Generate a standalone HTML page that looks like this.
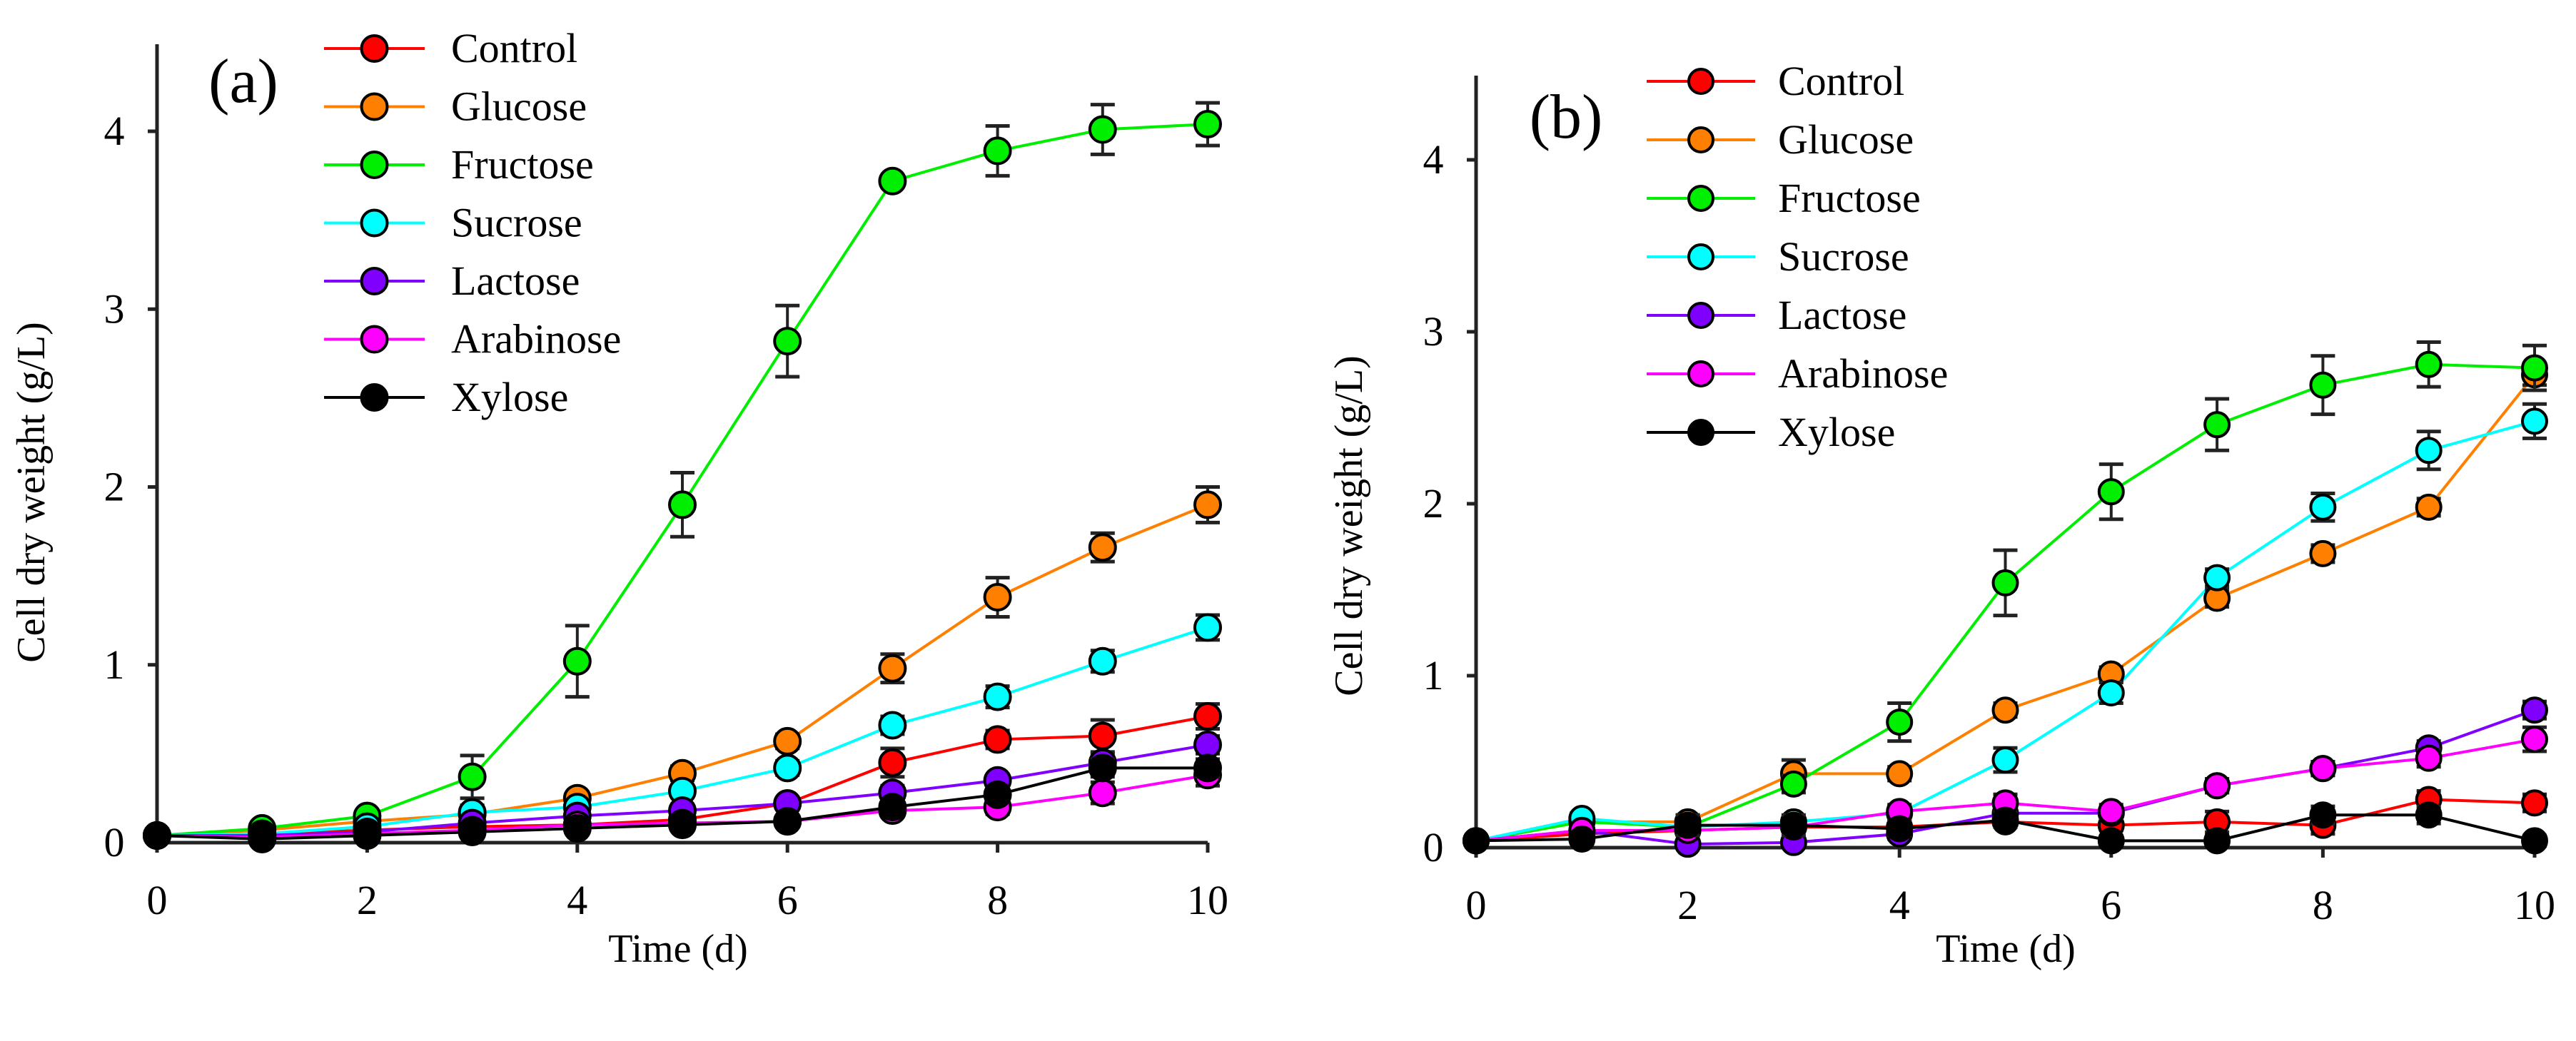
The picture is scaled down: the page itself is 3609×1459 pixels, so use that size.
<!DOCTYPE html>
<html><head><meta charset="utf-8"><style>
html,body{margin:0;padding:0;background:#fff;}
svg{display:block;}
svg text{font-family:"Liberation Serif","Times New Roman",serif !important;fill:#000;}
</style></head><body>
<svg id="chart" width="3609" height="1459" viewBox="0 0 3609 1459" xmlns="http://www.w3.org/2000/svg" font-family="Liberation Serif, serif"></svg>
<script>
const days=[0,1,2,3,4,5,6,7,8,9,10];
const seriesNames=["Control","Glucose","Fructose","Sucrose","Lactose","Arabinose","Xylose"];
const seriesColors=["#ff0000","#ff8000","#00ee00","#00ffff","#8000ff","#ff00ff","#000000"];
const xTicks=[0,2,4,6,8,10];
const yTicks=[0,1,2,3,4];
// Panel (a)
const aControl=[.04,.05,.07,.09,.10,.13,.22,.45,.58,.60,.71];
const aGlucose=[.04,.07,.12,.16,.25,.39,.57,.98,1.38,1.66,1.90];
const aFructose=[.04,.08,.15,.37,1.02,1.90,2.82,3.72,3.89,4.01,4.04];
const aSucrose=[.04,.05,.09,.17,.20,.29,.42,.66,.82,1.02,1.21];
const aLactose=[.04,.04,.06,.11,.15,.18,.22,.28,.35,.45,.55];
const aArabinose=[.04,.03,.05,.07,.10,.11,.12,.18,.20,.28,.38];
const aXylose=[.04,.02,.04,.06,.08,.10,.12,.20,.27,.42,.42];
const aErrControl=[0,0,0,0,.02,.02,.03,.08,.05,.09,.07];
const aErrGlucose=[0,0,0,0,.03,.04,.04,.08,.11,.08,.10];
const aErrFructose=[0,.02,.03,.12,.20,.18,.20,.03,.14,.14,.12];
const aErrSucrose=[0,0,0,.04,.03,.03,.04,.05,.06,.06,.07];
const aErrLactose=[0,0,0,0,.02,.02,.03,.04,.03,.05,.05];
const aErrArabinose=[0,0,0,0,.02,.02,.02,.03,.04,.06,.06];
const aErrXylose=[0,0,0,0,.02,.02,.02,.03,.04,.05,.05];
// Panel (b)
const bControl=[.04,.08,.10,.12,.12,.15,.13,.15,.13,.28,.26];
const bGlucose=[.04,.15,.15,.43,.43,.80,1.01,1.45,1.71,1.98,2.75];
const bFructose=[.04,.15,.12,.37,.73,1.54,2.07,2.46,2.69,2.81,2.79];
const bSucrose=[.04,.17,.12,.15,.20,.51,.90,1.57,1.98,2.31,2.48];
const bLactose=[.04,.10,.02,.03,.08,.20,.20,.36,.46,.58,.80];
const bArabinose=[.04,.10,.10,.12,.21,.26,.21,.36,.46,.52,.63];
const bXylose=[.04,.05,.13,.13,.11,.16,.04,.04,.19,.19,.04];
const bErrControl=[0,0,0,0,.03,.03,.03,.06,.05,.05,.05];
const bErrGlucose=[0,0,.04,.08,.04,.04,.04,.05,.05,.05,.06];
const bErrFructose=[0,.02,.02,.05,.11,.19,.16,.15,.17,.13,.13];
const bErrSucrose=[0,.03,.03,.03,.04,.07,.06,.05,.08,.11,.10];
const bErrLactose=[0,0,0,0,.03,.03,.03,.04,.04,.04,.05];
const bErrArabinose=[0,0,0,0,.04,.05,.04,.04,.04,.05,.07];
const bErrXylose=[0,0,.06,.06,.04,.04,.03,.03,.05,.05,.03];

const NS="http://www.w3.org/2000/svg";
const svg=document.getElementById('chart');
const FONT="'Liberation Serif', serif";
function el(tag,attrs,parent,txt){const e=document.createElementNS(NS,tag);for(const k in attrs)e.setAttribute(k,attrs[k]);if(txt!==undefined){e.textContent=txt;e.setAttribute('font-family',FONT);}(parent||svg).appendChild(e);return e;}

function panel(cfg){
  const g=el('g',{});
  
  
  const xs=v=>cfg.x0+(cfg.x10-cfg.x0)*v/10;
  const ys=v=>cfg.y0-(cfg.y0-cfg.y4)*v/4;
  const ya=el('line',{x1:cfg.x0,y1:cfg.top,x2:cfg.x0,y2:cfg.y0+2,stroke:'#222','stroke-width':5},g);
  
  
  const xa=el('line',{x1:cfg.x0-2,y1:cfg.y0,x2:cfg.x10,y2:cfg.y0,stroke:'#222','stroke-width':5},g);
  
  
  yTicks.forEach(t=>{
    el('line',{x1:cfg.x0-13,y1:ys(t),x2:cfg.x0,y2:ys(t),stroke:'#222','stroke-width':5},g);
    const lb=el('text',{x:cfg.x0-60,y:ys(t)+19,'font-size':58,'text-anchor':'middle'},g,String(t));
    
    
  });
  xTicks.forEach(t=>{
    el('line',{x1:xs(t),y1:cfg.y0,x2:xs(t),y2:cfg.y0+14,stroke:'#222','stroke-width':5},g);
    const lb=el('text',{x:xs(t),y:cfg.y0+100,'font-size':58,'text-anchor':'middle'},g,String(t));
    
    
  });
  const xt=el('text',{x:cfg.xTitleX,y:1348,'font-size':56,'text-anchor':'middle'},g,'Time (d)');
  
  
  const yt=el('text',{x:0,y:0,'font-size':56,'text-anchor':'middle',transform:`translate(${cfg.yTitleX},${cfg.yTitleY}) rotate(-90)`},g,'Cell dry weight (g/L)');
  
  
  const pl=el('text',{x:cfg.labelX,y:cfg.labelY,'font-size':88,'text-anchor':'middle'},g,cfg.label);
  
  
  cfg.data.forEach((vals,i)=>{
    const pts=vals.map((v,j)=>xs(days[j])+','+ys(v)).join(' ');
    const line=el('polyline',{points:pts,fill:'none',stroke:seriesColors[i],'stroke-width':4},g);
    
    
  });
  cfg.data.forEach((vals,i)=>{
    const sg=el('g',{},g);
    
    
    vals.forEach((v,j)=>{
      const e=cfg.err[i][j];
      const cx=xs(days[j]);
      if(e>0.015){
        const t=ys(v+e),b=ys(v-e);
        el('line',{x1:cx,y1:t,x2:cx,y2:b,stroke:'#222','stroke-width':4},sg);
        el('line',{x1:cx-17,y1:t,x2:cx+17,y2:t,stroke:'#222','stroke-width':5},sg);
        el('line',{x1:cx-17,y1:b,x2:cx+17,y2:b,stroke:'#222','stroke-width':5},sg);
      }
      const c=el('circle',{cx:cx,cy:ys(v),r:cfg.r,fill:seriesColors[i],stroke:'#000','stroke-width':4},sg);
      
      
    });
  });
  const lg=el('g',{},g);
  
  
  seriesNames.forEach((n,i)=>{
    const y=cfg.legY+i*cfg.legDy;
    const eg=el('g',{},lg);
    
    
    el('line',{x1:cfg.legX1,y1:y,x2:cfg.legX2,y2:y,stroke:seriesColors[i],'stroke-width':4},eg);
    el('circle',{cx:(cfg.legX1+cfg.legX2)/2,cy:y,r:cfg.r,fill:seriesColors[i],stroke:'#000','stroke-width':4},eg);
    el('text',{x:cfg.legTX,y:y+19,'font-size':58},eg,n);
  });
}

panel({name:'panel-a',label:'(a)',x0:220,x10:1692,y0:1181,y4:184,top:62,r:18,
  data:[aControl,aGlucose,aFructose,aSucrose,aLactose,aArabinose,aXylose],
  err:[aErrControl,aErrGlucose,aErrFructose,aErrSucrose,aErrLactose,aErrArabinose,aErrXylose],
  xTitleX:950,yTitleX:62,yTitleY:690,labelX:341,labelY:143,
  legX1:454,legX2:595,legY:68,legDy:81.5,legTX:632});
panel({name:'panel-b',label:'(b)',x0:2068,x10:3551,y0:1188,y4:224,top:106,r:17,
  data:[bControl,bGlucose,bFructose,bSucrose,bLactose,bArabinose,bXylose],
  err:[bErrControl,bErrGlucose,bErrFructose,bErrSucrose,bErrLactose,bErrArabinose,bErrXylose],
  xTitleX:2810,yTitleX:1908,yTitleY:737,labelX:2194,labelY:193,
  legX1:2307,legX2:2459,legY:114,legDy:82,legTX:2491});
</script>
</body></html>
